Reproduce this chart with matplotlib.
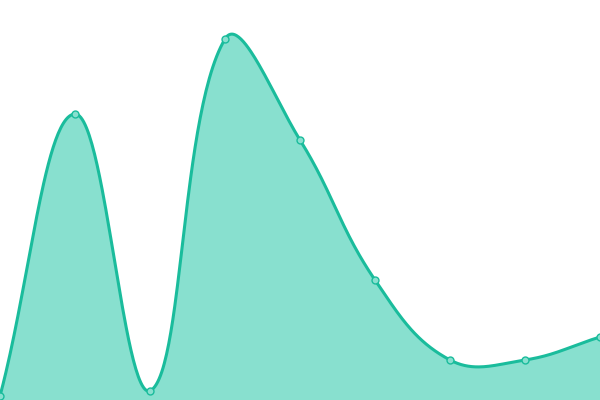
import numpy as np
import matplotlib
matplotlib.use('Agg')
import matplotlib.pyplot as plt

# values (chart units, 0 at the bottom)
idx = [0, 1, 2, 3, 4, 5, 6, 7, 8]
vals = [4, 286, 9, 361, 260, 120, 40, 40, 63]

line_col = '#1abc9c'
fill_col = '#88e0cf'

W, H = 600, 400
xmax, ymax = 8, 400


def spline(xs, ys, tension=0.4, n=60):
    # chart.js style bezier smoothing, done in pixel space
    px = np.asarray(xs, float) * W / xmax
    py = np.asarray(ys, float) * H / ymax
    k = len(px)
    cp_prev = []
    cp_next = []
    for i in range(k):
        a = (px[max(i - 1, 0)], py[max(i - 1, 0)])
        b = (px[i], py[i])
        c = (px[min(i + 1, k - 1)], py[min(i + 1, k - 1)])
        d01 = np.hypot(b[0] - a[0], b[1] - a[1])
        d12 = np.hypot(c[0] - b[0], c[1] - b[1])
        tot = d01 + d12
        s01 = d01 / tot if tot else 0
        s12 = d12 / tot if tot else 0
        fa = tension * s01
        fb = tension * s12
        p0 = [b[0] - fa * (c[0] - a[0]), b[1] - fa * (c[1] - a[1])]
        p1 = [b[0] + fb * (c[0] - a[0]), b[1] + fb * (c[1] - a[1])]
        for p in (p0, p1):
            p[0] = min(max(p[0], 0), W)
            p[1] = min(max(p[1], 0), H)
        cp_prev.append(p0)
        cp_next.append(p1)
    t = np.linspace(0, 1, n)[:, None]
    segs = []
    for i in range(k - 1):
        P0 = np.array([px[i], py[i]])
        P1 = np.array(cp_next[i])
        P2 = np.array(cp_prev[i + 1])
        P3 = np.array([px[i + 1], py[i + 1]])
        seg = ((1 - t)**3 * P0 + 3 * t * (1 - t)**2 * P1
               + 3 * t**2 * (1 - t) * P2 + t**3 * P3)
        segs.append(seg)
    out = np.concatenate(segs)
    return out[:, 0] * xmax / W, out[:, 1] * ymax / H


fig = plt.figure(figsize=(6, 4), dpi=100)
ax = fig.add_axes([0, 0, 1, 1])
sx, sy = spline(idx, vals)
ax.fill_between(sx, sy, 0, color=fill_col, lw=0)
ax.plot(sx, sy, color=line_col, lw=2.2, solid_capstyle='round')
ax.plot(idx, vals, 'o', ms=5, mfc=fill_col, mec=line_col, mew=1)
ax.set_xlim(0, xmax)
ax.set_ylim(0, ymax)
ax.axis('off')
fig.savefig('out.png', dpi=100)
